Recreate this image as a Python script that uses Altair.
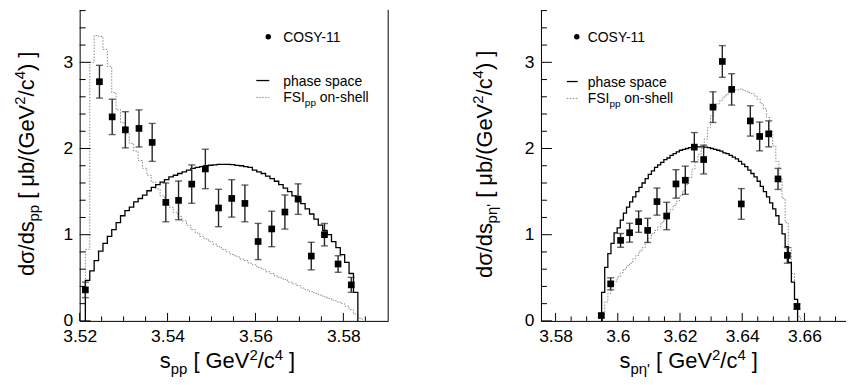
import altair as alt
import pandas as pd

FONT = "Liberation Sans, Arial, Helvetica, sans-serif"

# ---------------- data ----------------
# left panel: s_pp
L_pts_x = [3.5213, 3.5245, 3.5274, 3.5304, 3.5335, 3.5365, 3.5396, 3.5425, 3.5455, 3.5486, 3.5516,
           3.5546, 3.5576, 3.5606, 3.5637, 3.5667, 3.5697, 3.5727, 3.5757, 3.5788, 3.5818]
L_pts_y = [0.36, 2.775, 2.367, 2.217, 2.233, 2.071, 1.375, 1.398, 1.587, 1.763, 1.31,
           1.421, 1.363, 0.921, 1.067, 1.263, 1.413, 0.752, 1.0, 0.66, 0.418]
L_pts_err = [0.09, 0.19, 0.205, 0.21, 0.215, 0.22, 0.225, 0.225, 0.223, 0.229, 0.217,
             0.217, 0.213, 0.21, 0.206, 0.198, 0.177, 0.16, 0.13, 0.096, 0.087]

# right panel: s_p eta'
R_pts_x = [3.5947, 3.5977, 3.6009, 3.6038, 3.6067, 3.6096, 3.6126, 3.6157, 3.6187, 3.6217, 3.6246,
           3.6276, 3.6306, 3.6336, 3.6366, 3.6397, 3.6426, 3.6456, 3.6485, 3.6515, 3.6545, 3.6576]
R_pts_y = [0.062, 0.43, 0.934, 1.023, 1.151, 1.05, 1.384, 1.217, 1.589, 1.632, 2.016,
           1.872, 2.48, 3.01, 2.686, 1.357, 2.32, 2.14, 2.17, 1.647, 0.76, 0.167]
R_pts_err = [0.02, 0.07, 0.08, 0.11, 0.124, 0.14, 0.157, 0.159, 0.165, 0.163, 0.169,
             0.167, 0.178, 0.184, 0.182, 0.178, 0.176, 0.167, 0.151, 0.122, 0.091, 0.03]

# histograms (bin width 0.001 GeV^2/c^4)
BIN_W = 0.001
L_hist_start = 3.5213
L_phase = [0.47, 0.58, 0.70, 0.81, 0.90, 0.98, 1.06, 1.14, 1.22, 1.28, 1.32, 1.38, 1.42, 1.46, 1.51,
           1.55, 1.58, 1.61, 1.64, 1.67, 1.69, 1.71, 1.73, 1.75, 1.77, 1.78, 1.79, 1.80, 1.806, 1.81,
           1.815, 1.817, 1.817, 1.813, 1.805, 1.80, 1.79, 1.78, 1.75, 1.73, 1.71, 1.68, 1.65, 1.62,
           1.58, 1.54, 1.50, 1.45, 1.41, 1.36, 1.30, 1.24, 1.18, 1.11, 1.05, 1.00, 0.92, 0.85, 0.77,
           0.68, 0.55, 0.33]
L_fsi = [0.83, 3.0, 3.31, 3.30, 3.15, 2.95, 2.65, 2.45, 2.30, 2.17, 2.06, 1.97, 1.86, 1.77, 1.69,
         1.61, 1.53, 1.45, 1.38, 1.32, 1.26, 1.21, 1.16, 1.11, 1.06, 1.02, 0.98, 0.95, 0.92, 0.89,
         0.86, 0.83, 0.80, 0.77, 0.75, 0.72, 0.70, 0.67, 0.65, 0.62, 0.60, 0.57, 0.55, 0.52, 0.50,
         0.48, 0.45, 0.43, 0.41, 0.38, 0.36, 0.34, 0.32, 0.30, 0.28, 0.26, 0.24, 0.22, 0.20, 0.17,
         0.13, 0.08, 0.03]
R_hist_start = 3.5948
R_phase = [0.33, 0.62, 0.78, 0.90, 1.02, 1.08, 1.17, 1.25, 1.32, 1.38, 1.44, 1.50, 1.55, 1.60, 1.65,
           1.70, 1.74, 1.78, 1.81, 1.84, 1.87, 1.89, 1.92, 1.94, 1.96, 1.98, 1.99, 2.00, 2.01, 2.02,
           2.02, 2.02, 2.02, 2.015, 2.01, 2.00, 1.99, 1.98, 1.97, 1.95, 1.94, 1.92, 1.90, 1.88, 1.85,
           1.82, 1.79, 1.75, 1.71, 1.67, 1.62, 1.56, 1.50, 1.44, 1.37, 1.30, 1.22, 1.12, 1.01, 0.86,
           0.68, 0.45, 0.25]
R_fsi = [0.10, 0.22, 0.32, 0.40, 0.46, 0.51, 0.56, 0.60, 0.64, 0.67, 0.72, 0.76, 0.81, 0.85, 0.91,
         0.96, 1.01, 1.05, 1.09, 1.14, 1.18, 1.24, 1.29, 1.34, 1.39, 1.45, 1.51, 1.58, 1.66, 1.76,
         1.84, 1.93, 2.00, 2.11, 2.24, 2.38, 2.47, 2.52, 2.56, 2.60, 2.63, 2.65, 2.67, 2.68, 2.69,
         2.68, 2.67, 2.65, 2.64, 2.61, 2.57, 2.52, 2.46, 2.36, 2.21, 2.03, 1.85, 1.65, 1.42, 1.14,
         0.85, 0.55, 0.25, 0.05]

# axes
L_xdom = [3.52, 3.5902]
R_xdom = [3.5753, 3.6732]
Y_DOM = [0, 3.6085]
L_xticks = [3.52, 3.54, 3.56, 3.58]
L_xminor = [3.525, 3.53, 3.535, 3.545, 3.55, 3.555, 3.565, 3.57, 3.575, 3.585]
R_xticks = [3.58, 3.6, 3.62, 3.64, 3.66]
R_xminor = [3.585, 3.59, 3.595, 3.605, 3.61, 3.615, 3.625, 3.63, 3.635, 3.645, 3.65, 3.655, 3.665, 3.67]
Y_ticks = [0, 1, 2, 3]
Y_minor = [0.2, 0.4, 0.6, 0.8, 1.2, 1.4, 1.6, 1.8, 2.2, 2.4, 2.6, 2.8, 3.2, 3.4, 3.6]

LEGEND_DATA = "COSY-11"
LEGEND_PS = "phase space"

W_L, W_R, H = 310, 306, 312.5

# Arial / Liberation Sans advance widths (1/1000 em) for text layout
AW = {' ': 278, '[': 278, ']': 278, '(': 333, ')': 333, '/': 278, '-': 333, 'd': 556, 's': 500,
      'p': 556, 'b': 556, 'c': 500, 'e': 556, 'G': 778, 'V': 667, '2': 556, '4': 556, 'μ': 576,
      'σ': 600, 'η': 556, "'": 191, 'F': 611, 'S': 667, 'I': 278, 'o': 556, 'n': 556, 'h': 556,
      'l': 222, 'a': 556}


def tw(s, fs):
    return sum(AW.get(ch, 556) for ch in s) / 1000.0 * fs


def step_df(start, vals):
    xs, ys = [start], [0.0]
    for i, v in enumerate(vals):
        xs.append(start + i * BIN_W)
        ys.append(v)
    end = start + len(vals) * BIN_W
    xs += [end, end]
    ys += [vals[-1], 0.0]
    return pd.DataFrame({'x': xs, 'y': ys, 'o': list(range(len(xs)))})


def text_layers(parts, x0, y0, rotated, big, small, sub_off, sup_off):
    """parts: list of (text, kind) kind in n/sub/sup. returns list of charts.
    Leading/trailing blanks are turned into offsets (SVG collapses them)."""
    out = []
    cum = 0.0
    for text, kind in parts:
        fs = big if kind == 'n' else small
        off = 0 if kind == 'n' else (sub_off if kind == 'sub' else -sup_off)
        lead = len(text) - len(text.lstrip(' '))
        trail = len(text) - len(text.rstrip(' '))
        body = text.strip(' ')
        cum += tw(' ' * lead, fs)
        if rotated:
            x, y, ang = x0 + off, y0 - cum, 270
        else:
            x, y, ang = x0 + cum, y0 + off, 0
        out.append(
            alt.Chart(pd.DataFrame({'t': [body]}))
            .mark_text(align='left', baseline='alphabetic', angle=ang, fontSize=fs,
                       font=FONT, color='black')
            .encode(x=alt.value(x), y=alt.value(y), text='t:N')
        )
        cum += tw(body, fs) + tw(' ' * trail, fs)
    return out


def panel(pts_x, pts_y, pts_err, ps_vals, fsi_vals, hstart, xdom, W, xticks, xminor,
          ysub, xsub, ytitle_x, ybracket_y, xtitle_x, leg_x, leg_sample, leg_y, right_frame):
    xs = alt.Scale(domain=xdom, nice=False, zero=False)
    ys = alt.Scale(domain=Y_DOM, nice=False, zero=False)
    xax = alt.Axis(values=xticks, format='.4~g', ticks=False, grid=False, title=None,
                   labelPadding=7, labelFlush=False, labelOverlap=False)
    yax = alt.Axis(values=Y_ticks, ticks=False, grid=False, title=None, labelPadding=7,
                   labelFlush=False, labelOverlap=False)

    def X(f):
        return alt.X(f, type='quantitative', scale=xs, axis=xax)

    def Y(f):
        return alt.Y(f, type='quantitative', scale=ys, axis=yax)

    pts = pd.DataFrame({'x': pts_x, 'y': pts_y,
                        'lo': [a - b for a, b in zip(pts_y, pts_err)],
                        'hi': [a + b for a, b in zip(pts_y, pts_err)]})

    layers = []
    layers.append(alt.Chart(step_df(hstart, fsi_vals)).mark_line(
        interpolate='step-after', color='#8a8a8a', strokeWidth=1, strokeDash=[1.5, 1.5])
        .encode(x=X('x'), y=Y('y'), order='o:Q'))
    layers.append(alt.Chart(step_df(hstart, ps_vals)).mark_line(
        interpolate='step-after', color='black', strokeWidth=1.3)
        .encode(x=X('x'), y=Y('y'), order='o:Q'))
    layers.append(alt.Chart(pts).mark_rule(color='#262626', strokeWidth=1.4)
                  .encode(x=X('x'), y=Y('lo'), y2='hi'))
    layers.append(alt.Chart(pts).mark_tick(orient='horizontal', size=7, thickness=1.4, color='#262626')
                  .encode(x=X('x'), y=Y('lo')))
    layers.append(alt.Chart(pts).mark_tick(orient='horizontal', size=7, thickness=1.4, color='#262626')
                  .encode(x=X('x'), y=Y('hi')))
    layers.append(alt.Chart(pts).mark_square(size=45, color='black', opacity=1, filled=True)
                  .encode(x=X('x'), y=Y('y')))

    # inward ticks
    layers.append(alt.Chart(pd.DataFrame({'v': xticks})).mark_rule(color='black', strokeWidth=1)
                  .encode(x=X('v'), y=alt.value(H), y2=alt.value(H - 8)))
    layers.append(alt.Chart(pd.DataFrame({'v': xminor})).mark_rule(color='black', strokeWidth=1)
                  .encode(x=X('v'), y=alt.value(H), y2=alt.value(H - 4.5)))
    layers.append(alt.Chart(pd.DataFrame({'v': Y_ticks})).mark_rule(color='black', strokeWidth=1)
                  .encode(y=Y('v'), x=alt.value(0), x2=alt.value(11)))
    layers.append(alt.Chart(pd.DataFrame({'v': Y_minor})).mark_rule(color='black', strokeWidth=1)
                  .encode(y=Y('v'), x=alt.value(0), x2=alt.value(6)))
    if right_frame:
        layers.append(alt.Chart(pd.DataFrame({'v': [xdom[1]]})).mark_rule(color='black', strokeWidth=1)
                      .encode(x=X('v'), y=alt.value(0), y2=alt.value(H)))

    # y title (rotated), anchored so that the bracket part starts at ybracket_y
    ypre = [("dσ/ds", 'n'), (ysub, 'sub')]
    ypost = [(" [ μb/(GeV", 'n'), ("2", 'sup'), ("/c", 'n'), ("4", 'sup'), (") ]", 'n')]
    pre_len = tw("dσ/ds", 22) + tw(ysub, 15)
    layers += text_layers(ypre + ypost, ytitle_x, ybracket_y + pre_len, True, 22, 15, 5, 9)
    # x title
    xparts = [("s", 'n'), (xsub, 'sub'), (" [ GeV", 'n'), ("2", 'sup'), ("/c", 'n'), ("4", 'sup'), (" ]", 'n')]
    layers += text_layers(xparts, xtitle_x, 360, False, 22, 15, 6, 8)

    # legend
    layers.append(alt.Chart(pd.DataFrame({'a': [0]})).mark_circle(size=30, color='black', opacity=1)
                  .encode(x=alt.value(leg_sample[1] - 1), y=alt.value(leg_y[0])))
    layers += text_layers([(LEGEND_DATA, 'n')], leg_x, leg_y[0] + 5, False, 14, 10, 4, 6)
    layers.append(alt.Chart(pd.DataFrame({'a': [0]})).mark_rule(color='black', strokeWidth=1.3)
                  .encode(x=alt.value(leg_sample[0]), x2=alt.value(leg_sample[1]), y=alt.value(leg_y[1])))
    layers += text_layers([(LEGEND_PS, 'n')], leg_x, leg_y[1] + 5, False, 14, 10, 4, 6)
    layers.append(alt.Chart(pd.DataFrame({'a': [0]})).mark_rule(color='#8a8a8a', strokeWidth=1,
                                                                  strokeDash=[1.5, 1.5])
                  .encode(x=alt.value(leg_sample[0]), x2=alt.value(leg_sample[1]), y=alt.value(leg_y[2])))
    layers += text_layers([("FSI", 'n'), ("pp", 'sub'), (" on-shell", 'n')], leg_x, leg_y[2] + 5,
                          False, 14, 10, 4, 6)

    return alt.layer(*layers).properties(width=W, height=H)


left = panel(L_pts_x, L_pts_y, L_pts_err, L_phase, L_fsi, L_hist_start, L_xdom, W_L,
             L_xticks, L_xminor, "pp", "pp", -45.5, 196, 80.5,
             204.5, (177.5, 190.5), (27, 71, 88), True)
right = panel(R_pts_x, R_pts_y, R_pts_err, R_phase, R_fsi, R_hist_start, R_xdom, W_R,
              R_xticks, R_xminor, "pη'", "pη'", -49, 195, 79,
              47, (26, 37), (27, 72, 89), False)

chart = (
    alt.hconcat(left, right, spacing=153.5, bounds='flush')
    .properties(padding={'left': 5, 'top': 0, 'right': 0, 'bottom': 0})
    .configure_view(strokeWidth=0)
    .configure_axis(labelFont=FONT, labelFontSize=17.5, labelColor='black',
                    domainColor='black', domainWidth=1)
)

chart.save("out.html", embed_options={"renderer": "svg", "actions": False})
